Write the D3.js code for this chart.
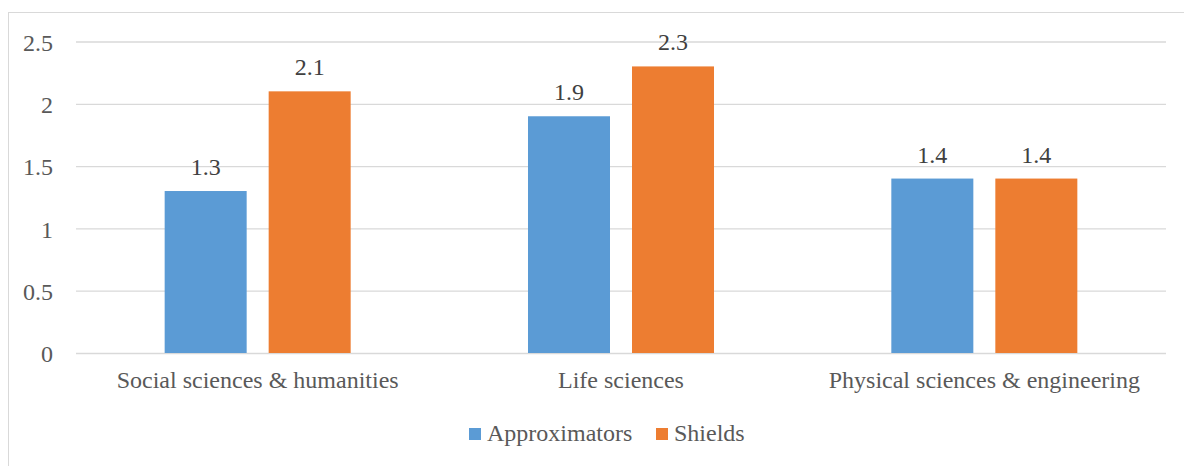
<!DOCTYPE html>
<html>
<head>
<meta charset="utf-8">
<script src="https://cdn.jsdelivr.net/npm/d3@7"></script>
<style>
  html, body { margin: 0; padding: 0; background: #fff; }
  svg { display: block; }
</style>
</head>
<body>
<svg id="chart" width="1184" height="466"></svg>
<script>
const categories = ["Social sciences & humanities", "Life sciences", "Physical sciences & engineering"];
const seriesNames = ["Approximators", "Shields"];
const approximators = [1.3, 1.9, 1.4];
const shields = [2.1, 2.3, 1.4];
const yTicks = [0, 0.5, 1, 1.5, 2, 2.5];
const colors = ["#5b9bd5", "#ed7d31"];

const seriesValues = [approximators, shields];
const font = '"Liberation Serif"';

const svg = d3.select("#chart");

// outer chart frame
svg.append("rect")
  .attr("x", 8.5).attr("y", 12.5)
  .attr("width", 1200).attr("height", 500)
  .attr("fill", "none").attr("stroke", "#d9d9d9").attr("stroke-width", 1);

const plot = { left: 76, right: 1166, top: 41.5, bottom: 353 };

const x = d3.scaleBand().domain(categories).range([plot.left, plot.right]).padding(0);
const xs = d3.scaleBand().domain(seriesNames).range([0, x.bandwidth()])
  .paddingInner(0.2115).paddingOuter(0.8525);
const y = d3.scaleLinear().domain([0, 2.5]).range([plot.bottom, plot.top]);

// horizontal gridlines + tick labels
const yAxis = d3.axisLeft(y).tickValues(yTicks).tickSize(-(plot.right - plot.left)).tickPadding(23)
  .tickFormat(d => String(d));
const gy = svg.append("g").attr("transform", `translate(${plot.left},0)`).call(yAxis);
gy.select(".domain").remove();
gy.selectAll(".tick line").attr("stroke", "#d9d9d9").attr("stroke-width", 1.3);
gy.selectAll(".tick text")
  .style("font-family", font).style("font-size", "24px").attr("fill", "#595959").attr("dy", "0.37em");

// bars
const groups = svg.append("g").selectAll("g")
  .data(categories)
  .join("g")
  .attr("transform", d => `translate(${x(d)},0)`);

const bars = groups.selectAll("g.bar")
  .data((d, i) => seriesNames.map((s, j) => ({ series: s, value: seriesValues[j][i], idx: j })))
  .join("g").attr("class", "bar");

bars.append("rect")
  .attr("x", d => xs(d.series))
  .attr("width", xs.bandwidth())
  .attr("y", d => y(d.value))
  .attr("height", d => y(0) - y(d.value))
  .attr("fill", d => colors[d.idx]);

bars.append("text")
  .attr("x", d => xs(d.series) + xs.bandwidth() / 2)
  .attr("y", d => y(d.value) - 16)
  .attr("text-anchor", "middle")
  .style("font-family", font).style("font-size", "24px").attr("fill", "#404040")
  .text(d => d.value.toFixed(1));

// category labels
const xAxis = d3.axisBottom(x).tickSize(0).tickPadding(0);
const gx = svg.append("g").attr("transform", `translate(0,${plot.bottom})`).call(xAxis);
gx.select(".domain").remove();
gx.selectAll(".tick text")
  .attr("y", 35).attr("dy", 0)
  .style("font-family", font).style("font-size", "24px").attr("fill", "#595959");

// legend
const legendX = [469, 656];
const legend = svg.append("g").selectAll("g")
  .data(seriesNames)
  .join("g")
  .attr("transform", (d, i) => `translate(${legendX[i]},428)`);
legend.append("rect").attr("width", 12).attr("height", 12).attr("fill", (d, i) => colors[i]);
legend.append("text")
  .attr("x", 18).attr("y", 13)
  .style("font-family", font).style("font-size", "24px").attr("fill", "#595959")
  .text(d => d);
</script>
</body>
</html>
